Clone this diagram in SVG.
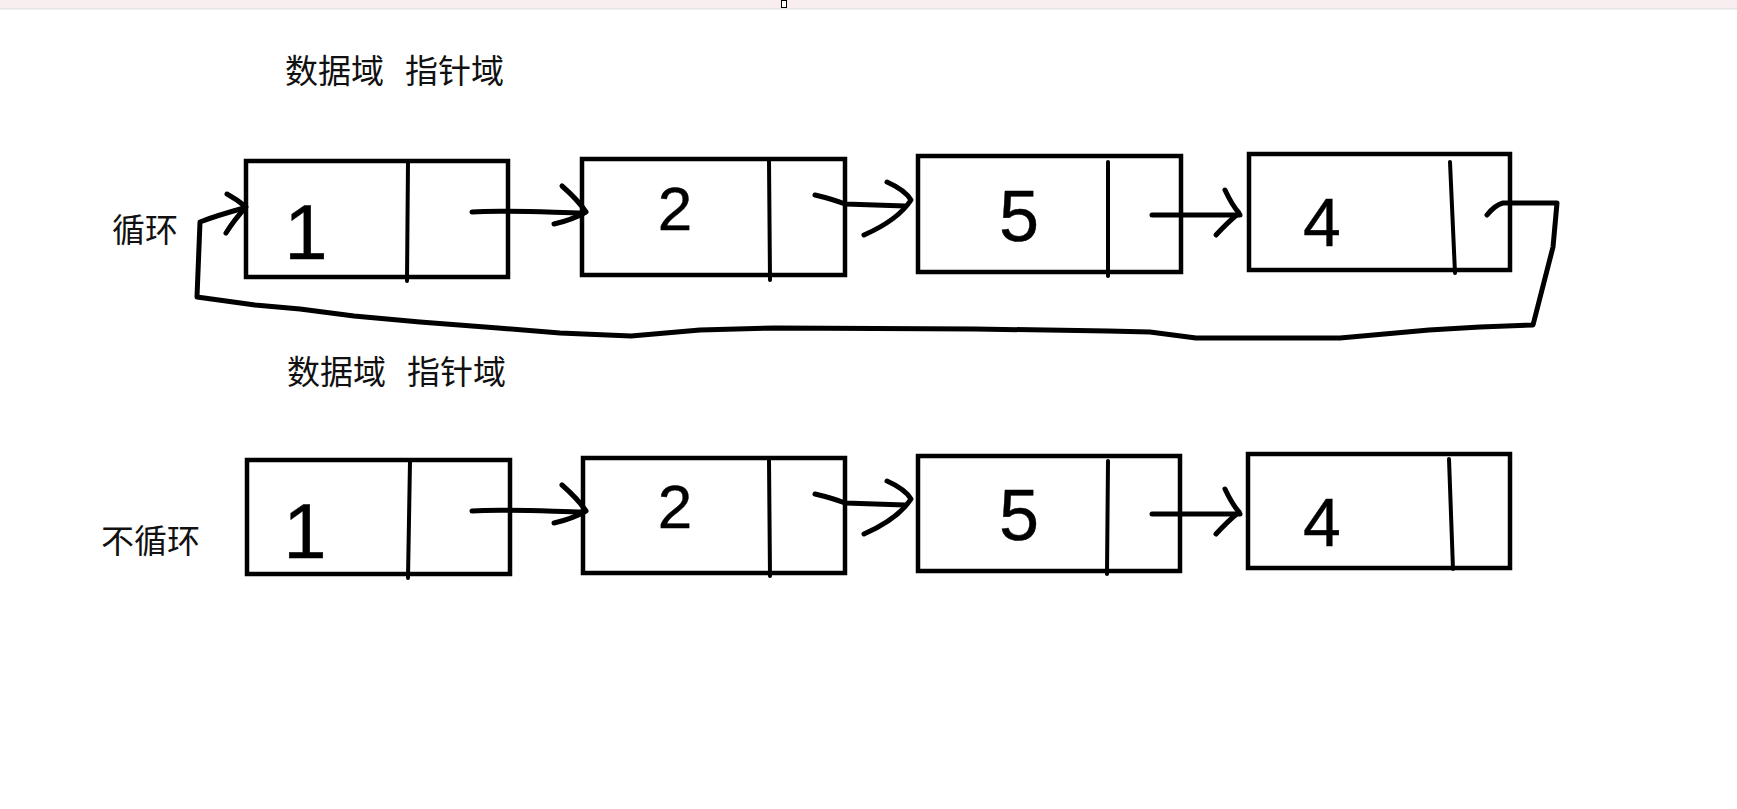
<svg xmlns="http://www.w3.org/2000/svg" xmlns:xlink="http://www.w3.org/1999/xlink" width="1737" height="809" viewBox="0 0 1737 809">
<style>
.box{fill:#fff;stroke:#000;stroke-width:4.5}
.div{fill:none;stroke:#000;stroke-width:4;stroke-linecap:round}
.ink{fill:none;stroke:#000;stroke-width:5;stroke-linecap:round;stroke-linejoin:round}
.lbl{font-family:"Noto Sans CJK SC","Noto Sans",sans-serif;font-size:33px;fill:#111}
.dig{font-family:"Liberation Sans","DejaVu Sans",sans-serif;fill:#000;stroke:#000;stroke-width:0.4;text-anchor:middle}
</style>
<defs>
<g id="a12"><path class="ink" d="M472,212 C500,210 540,212 584,213"/><path class="ink" d="M562,186 Q578,200 586,212 Q572,220 554,224"/></g>
<g id="a23"><path class="ink" d="M815,195 Q832,199 845,204 L905,206"/><path class="ink" d="M887,182 Q905,190 911,200 Q898,220 864,235"/></g>
<g id="a34"><path class="ink" d="M1152,215 L1240,215"/><path class="ink" d="M1225,190 Q1232,205 1239,213 Q1228,222 1216,235"/></g>
</defs>
<rect x="0" y="0" width="1737" height="8" fill="#f8eeef"/>
<rect x="0" y="8" width="1737" height="1.5" fill="#e6e3e3"/>
<rect x="781.5" y="0.5" width="5" height="7" fill="#fff" stroke="#000" stroke-width="1"/>

<text class="lbl" x="285" y="83">数据域</text>
<text class="lbl" x="405" y="83">指针域</text>
<text class="lbl" x="287" y="384">数据域</text>
<text class="lbl" x="407" y="384">指针域</text>
<text class="lbl" x="112" y="242">循环</text>
<text class="lbl" x="101" y="553">不循环</text>

<g id="top-node-1"><rect class="box" x="246" y="161" width="262" height="116"/><path class="div" d="M408,161 L407,281"/><text class="dig" x="306" y="259" font-size="78">1</text></g>
<g id="top-node-2"><rect class="box" x="582" y="159" width="263" height="116"/><path class="div" d="M769,161 L770,280"/><text class="dig" x="675" y="230" font-size="62">2</text></g>
<g id="top-node-3"><rect class="box" x="918" y="156" width="263" height="116"/><path class="div" d="M1108,162 L1108,276"/><text class="dig" x="1019" y="241" font-size="72">5</text></g>
<g id="top-node-4"><rect class="box" x="1249" y="154" width="261" height="116"/><path class="div" d="M1450,162 L1455,273"/><text class="dig" x="1322" y="246" font-size="68">4</text></g>

<g id="bottom-node-1"><rect class="box" x="247" y="460" width="263" height="114"/><path class="div" d="M410,461 L408,578"/><text class="dig" x="305" y="558" font-size="78">1</text></g>
<g id="bottom-node-2"><rect class="box" x="583" y="458" width="262" height="115"/><path class="div" d="M769,460 L770,576"/><text class="dig" x="675" y="528" font-size="62">2</text></g>
<g id="bottom-node-3"><rect class="box" x="918" y="456" width="262" height="115"/><path class="div" d="M1108,461 L1107,574"/><text class="dig" x="1019" y="540" font-size="72">5</text></g>
<g id="bottom-node-4"><rect class="box" x="1248" y="454" width="262" height="114"/><path class="div" d="M1449,459 L1453,569"/><text class="dig" x="1322" y="546" font-size="68">4</text></g>

<g id="connectors">
<use xlink:href="#a12"/>
<use xlink:href="#a23"/>
<use xlink:href="#a34"/>
<path class="ink" d="M1487,215 Q1495,205 1503,203 L1557,203 L1553,247 L1533,325 L1480,327 L1429,330 L1340,338 L1196,338 L1150,332 L1108,331 L975,329 L775,328 L700,330 L631,336 L560,333 L498,328 L420,322 L354,316 L300,309 L255,305 L197,297 L200,222 Q215,216 244,208"/>
<path class="ink" d="M227,194 Q238,200 246,207 Q234,220 226,233"/>
<use xlink:href="#a12" transform="translate(0,299)"/>
<use xlink:href="#a23" transform="translate(0,299)"/>
<use xlink:href="#a34" transform="translate(0,299)"/>
</g>
</svg>
